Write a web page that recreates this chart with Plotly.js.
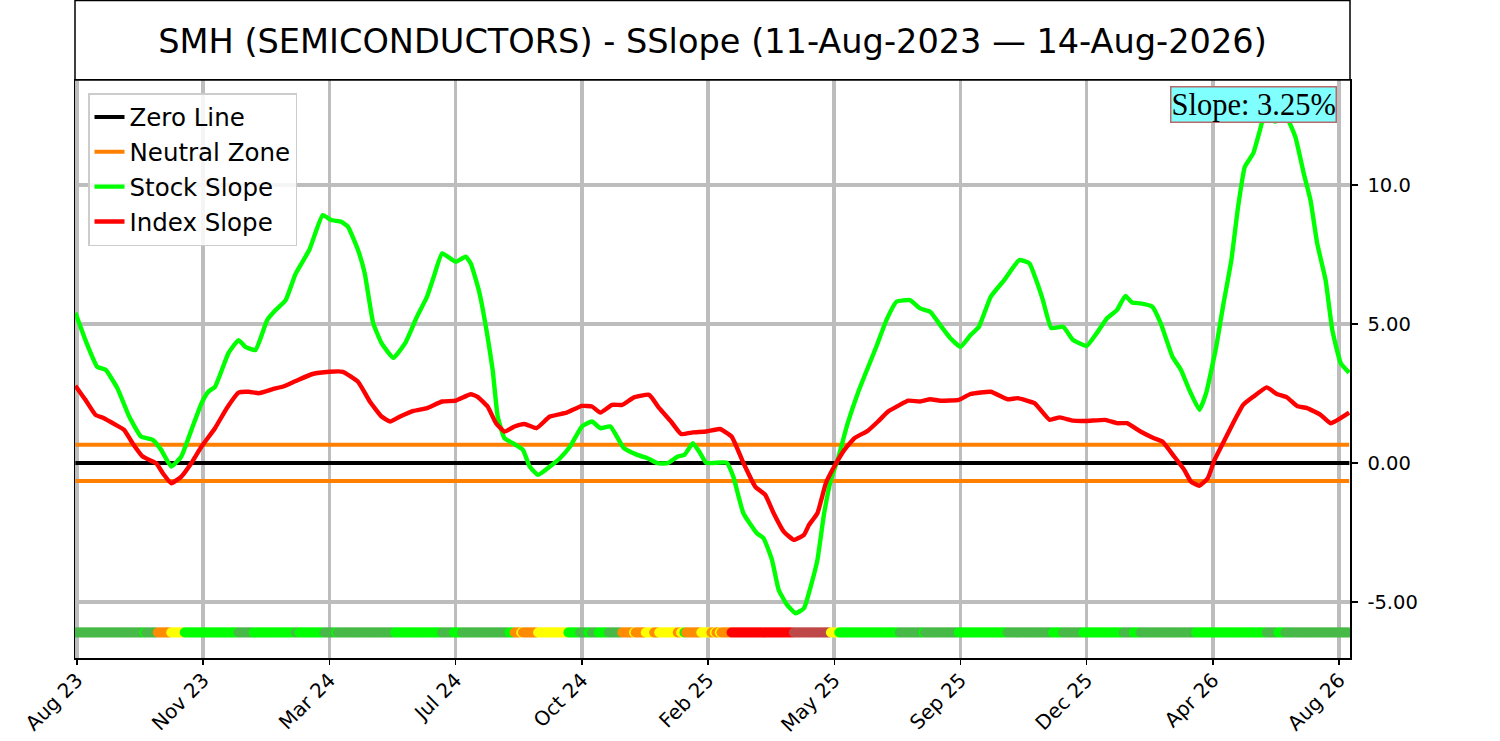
<!DOCTYPE html>
<html>
<head>
<meta charset="utf-8">
<script src="https://cdn.plot.ly/plotly-3.0.1.min.js"></script>
<style>
  html, body { margin: 0; padding: 0; background: #ffffff; }
  #chart { width: 1500px; height: 741px; }
</style>
</head>
<body>
<div id="chart"></div>
<script>
// trading-day index (0 = 11-Aug-2023) and slope readings
var stockDay = [0,6,13,18,25,32,39,46,51,57,63,69,75,79,83,91,97,101,107,114,
  119,125,131,139,147,152,158,162,168,172,177,182,189,196,203,209,213,218,226,232,
  235,240,245,248,251,255,260,266,270,275,282,288,294,301,307,312,318,326,334,340,
  346,352,358,362,367,371,375,387,391,397,405,409,414,418,423,428,433,437,441,445,
  449,453,459,465,470,476,482,488,496,502,508,514,520,526,532,537,544,552,561,567,
  571,575,580,587,593,601,607,613,619,624,628,633,640,645,652,657,662,668,672,678,
  682,687,691,695,700,704,708,713,719,725,730,734,738,743,747,752,757];
var stockSlope = [5.40,4.42,3.46,3.35,2.69,1.67,0.95,0.83,0.47,-0.13,0.23,1.19,2.15,2.56,2.74,3.95,4.42,4.18,4.06,5.14,
  5.50,5.86,6.82,7.66,8.92,8.74,8.68,8.50,7.66,6.82,5.03,4.31,3.78,4.31,5.26,5.98,6.70,7.54,7.24,7.42,
  7.18,6.16,4.54,3.35,1.67,0.89,0.71,0.47,-0.13,-0.43,-0.13,0.17,0.59,1.31,1.49,1.25,1.31,0.53,0.29,0.17,
  -0.01,-0.01,0.23,0.29,0.71,0.38,0.0,0.01,-0.49,-1.81,-2.53,-2.71,-3.49,-4.57,-5.11,-5.41,-5.23,-4.45,-3.49,-1.81,
  -0.61,0.11,1.43,2.51,3.28,4.18,5.14,5.80,5.86,5.56,5.44,4.96,4.49,4.18,4.60,4.90,5.98,6.58,7.30,7.18,
  6.58,5.86,4.85,4.90,4.42,4.21,4.67,5.20,5.50,6.01,5.77,5.74,5.62,5.03,3.82,3.35,2.63,1.91,2.51,4.18,
  5.62,7.30,9.22,10.66,11.14,11.98,12.82,12.28,12.52,11.74,10.42,9.46,7.90,6.58,4.78,3.59,3.25];

var indexDay = [0,6,12,17,24,29,34,40,48,52,57,63,69,75,83,90,97,103,109,117,
  123,131,141,151,159,168,175,182,187,193,201,209,218,226,235,239,245,250,255,261,
  267,274,282,292,301,307,312,319,325,332,341,347,354,360,367,375,383,390,397,404,
  410,415,421,427,433,436,441,446,451,457,463,471,477,483,490,495,502,508,514,525,
  532,544,554,560,570,579,585,593,601,612,619,625,633,641,646,653,659,663,668,673,
  677,682,688,694,700,708,714,720,726,732,740,746,757];
var indexSlope = [2.78,2.27,1.73,1.61,1.37,1.19,0.71,0.23,-0.01,-0.37,-0.73,-0.49,0.0,0.59,1.25,1.97,2.53,2.56,2.51,2.65,
  2.74,2.95,3.20,3.28,3.28,2.92,2.21,1.67,1.49,1.67,1.87,1.97,2.21,2.24,2.47,2.38,2.03,1.43,1.13,1.31,
  1.40,1.25,1.67,1.81,2.05,2.03,1.81,2.09,2.09,2.36,2.45,1.97,1.49,1.04,1.10,1.13,1.22,0.95,0.0,-0.85,
  -1.15,-1.81,-2.47,-2.77,-2.59,-2.23,-1.81,-0.73,-0.13,0.47,0.89,1.16,1.49,1.85,2.09,2.24,2.21,2.29,2.24,2.27,
  2.48,2.56,2.29,2.33,2.15,1.55,1.64,1.52,1.51,1.55,1.43,1.43,1.13,0.89,0.77,0.23,-0.25,-0.67,-0.82,-0.55,
  0.11,0.71,1.43,2.09,2.38,2.72,2.48,2.36,2.05,1.97,1.73,1.43,1.81];

// status strip: runs of days with the same state
var stateFrom = [0,41,42,49,57,65,97,106,131,133,148,155,156,190,218,225,230,258,261,265,
  266,275,293,300,305,307,311,317,325,332,333,339,344,347,358,360,362,363,372,378,
  380,381,383,384,390,427,449,454,490,504,505,525,554,581,587,599,623,629,633,666,
  708,715,719];
var stateTo = [40,41,48,56,64,96,105,130,132,147,154,155,189,217,224,229,257,260,264,265,
  274,292,299,304,306,310,316,324,331,332,338,343,346,357,359,361,362,371,377,379,
  380,382,383,389,426,448,453,489,503,504,524,553,580,586,598,622,628,632,665,707,
  714,718,757];
var stateCode = ['dg','lime','dg','orange','yellow','lime','dg','lime','dg','lime','dg','lime','dg','lime','dg','lime','dg','lime','orange','yellow',
  'orange','yellow','lime','dg','lime','dg','lime','dg','orange','yellow','orange','yellow','orange','yellow','orange','yellow','lime','orange','yellow','orange',
  'yellow','orange','yellow','orange','red','darkred','yellow','lime','dg','lime','dg','lime','dg','lime','dg','lime','dg','lime','dg','lime',
  'dg','lime','dg'];

var tickDays = [1,76,151,226,301,376,451,526,601,676,751];
var tickNames = ['Aug 23','Nov 23','Mar 24','Jul 24','Oct 24','Feb 25','May 25','Sep 25','Dec 25','Apr 26','Aug 26'];

var neutralBand = 0.65;
var stripLevel = -6.1;
var lastSlope = 3.25;

var stateColors = {
  dg: '#47b947',
  lime: '#00ff00',
  orange: '#ff8c00',
  yellow: '#ffff00',
  red: '#ff0000',
  darkred: '#bf4848'
};

var firstDay = stockDay[0];
var lastDay = stockDay[stockDay.length - 1];

var stripX = [];
var stripColor = [];
for (var i = 0; i < stateFrom.length; i++) {
  for (var d = stateFrom[i]; d <= stateTo[i]; d++) {
    stripX.push(d);
    stripColor.push(stateColors[stateCode[i]]);
  }
}
var stripY = stripX.map(function() { return stripLevel; });

var zeroTrace = {
  x: [firstDay, lastDay], y: [0, 0],
  mode: 'lines', name: 'Zero Line',
  line: {color: '#000000', width: 4}
};

var neutralTrace = {
  x: [firstDay, lastDay, null, firstDay, lastDay],
  y: [neutralBand, neutralBand, null, -neutralBand, -neutralBand],
  mode: 'lines', name: 'Neutral Zone',
  line: {color: '#ff8000', width: 4}
};

var stockTrace = {
  x: stockDay, y: stockSlope,
  mode: 'lines', name: 'Stock Slope',
  line: {color: '#00ff00', width: 4.4, shape: 'spline', smoothing: 0.4}
};

var indexTrace = {
  x: indexDay, y: indexSlope,
  mode: 'lines', name: 'Index Slope',
  line: {color: '#ff0000', width: 4.4, shape: 'spline', smoothing: 0.4}
};

var stripTrace = {
  x: stripX, y: stripY,
  mode: 'markers', showlegend: false, hoverinfo: 'skip',
  marker: {color: stripColor, size: 10, line: {width: 0}}
};

var plotH = 741 - 80 - 83;

var layout = {
  width: 1500,
  height: 741,
  margin: {l: 75, r: 150, t: 80, b: 83},
  paper_bgcolor: '#ffffff',
  plot_bgcolor: '#ffffff',
  font: {family: 'DejaVu Sans', color: '#000000', size: 20},
  title: {
    text: 'SMH (SEMICONDUCTORS) - SSlope (11-Aug-2023 \u2014 14-Aug-2026)',
    font: {family: 'DejaVu Sans', size: 33.6, color: '#000000'},
    xref: 'paper', x: 0.5, xanchor: 'center',
    yref: 'container', y: 1 - 41 / 741, yanchor: 'middle'
  },
  showlegend: true,
  legend: {
    x: 13 / 1275, y: 1 - 13 / plotH, xanchor: 'left', yanchor: 'top',
    bgcolor: 'rgba(255,255,255,0.85)',
    bordercolor: '#cccccc', borderwidth: 1.5,
    font: {family: 'DejaVu Sans', size: 24.5, color: '#000000'},
    itemwidth: 30
  },
  xaxis: {
    range: [-0.2, 757.5],
    tickmode: 'array', tickvals: tickDays, ticktext: tickNames,
    tickangle: -45,
    ticks: 'outside', ticklen: 5, tickwidth: 1.5, tickcolor: '#000000',
    ticklabelstandoff: -4,
    tickfont: {family: 'DejaVu Sans', size: 20, color: '#000000'},
    showline: true, linecolor: '#000000', linewidth: 1.5, mirror: true,
    showgrid: true, gridcolor: '#bdbdbd', gridwidth: 3.6,
    zeroline: false
  },
  yaxis: {
    side: 'right',
    range: [-7.02, 13.78],
    tickmode: 'array', tickvals: [-5, 0, 5, 10], ticktext: ['-5.00', '0.00', '5.00', '10.0'],
    ticks: 'outside', ticklen: 6, tickwidth: 1.5, tickcolor: '#000000',
    ticklabelstandoff: 6,
    tickfont: {family: 'DejaVu Sans', size: 19.5, color: '#000000'},
    showline: true, linecolor: '#000000', linewidth: 1.5, mirror: true,
    showgrid: true, gridcolor: '#bdbdbd', gridwidth: 3.6,
    zeroline: false
  },
  shapes: [{
    type: 'rect', xref: 'paper', yref: 'paper',
    x0: 0, x1: 1, y0: 1, y1: 1 + 79.5 / plotH,
    line: {color: '#000000', width: 1.5},
    fillcolor: 'rgba(0,0,0,0)'
  }],
  annotations: [{
    xref: 'paper', yref: 'paper',
    x: 1 - 13 / 1275, y: 1 - 6 / plotH,
    xanchor: 'right', yanchor: 'top',
    text: 'Slope: ' + lastSlope.toFixed(2) + '%',
    showarrow: false,
    font: {family: 'Liberation Serif', size: 30.5, color: '#000000'},
    bgcolor: '#80ffff',
    bordercolor: '#b46a6a', borderwidth: 1.5, borderpad: 0
  }]
};

Plotly.newPlot('chart', [zeroTrace, neutralTrace, stockTrace, indexTrace, stripTrace], layout, {staticPlot: true});
</script>
</body>
</html>
